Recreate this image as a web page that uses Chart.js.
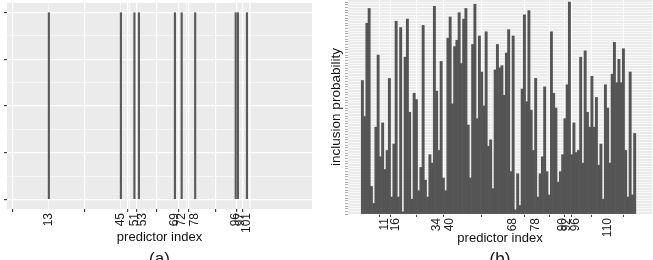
<!DOCTYPE html>
<html>
<head>
<meta charset="utf-8">
<script src="https://cdn.jsdelivr.net/npm/chart.js@4.4.0/dist/chart.umd.min.js"></script>
<style>
  html, body { margin: 0; padding: 0; width: 653px; height: 260px; overflow: hidden; background: #fff; }
  #chartA { position: absolute; left: 0; top: 0; }
  #chartB { position: absolute; left: 330px; top: 0; }
</style>
</head>
<body>
<canvas id="chartA" width="330" height="270"></canvas>
<canvas id="chartB" width="323" height="270"></canvas>
<script>
// panel (a): selected predictors
const selectedIdx = [13, 45, 51, 53, 69, 72, 78, 96, 97, 101];
const selectedVal = [1, 1, 1, 1, 1, 1, 1, 1, 1, 1];
// small shift of crowded tick labels, as in the original figure
const labelNudgeA = [0, 0, 0, 1.5, 0, 0, 0, 0, 1, 0];
const minorGridA = [-3, 29, 61, 87, 117];
const yGridA = [0, 0.125, 0.25, 0.375, 0.5, 0.625, 0.75, 0.875, 1];

// panel (b): inclusion probability of predictors 1..122
const tickLabelsB = [11, 16, 34, 40, 68, 78, 90, 92, 96, 110];
const inclusionProb = [
  0.63, 0.46, 0.90, 0.97, 0.13, 0.05, 0.41, 0.75, 0.27, 0.43,
  0.21, 0.30, 0.64, 0.08, 0.33, 0.91, 0.08, 0.88, 0.01, 0.74,
  0.92, 0.48, 0.07, 0.57, 0.54, 0.11, 0.22, 0.89, 0.16, 0.08,
  0.28, 0.24, 0.98, 0.58, 0.30, 0.72, 0.17, 0.11, 0.83, 0.93,
  0.52, 0.79, 0.82, 0.95, 0.71, 0.92, 0.97, 0.42, 0.17, 0.80,
  0.99, 0.45, 0.84, 0.67, 0.51, 0.86, 0.32, 0.35, 0.12, 0.68,
  0.80, 0.69, 0.70, 0.56, 0.76, 0.87, 0.20, 0.84, 0.02, 0.19,
  0.04, 0.59, 0.94, 0.53, 0.96, 0.49, 0.30, 0.64, 0.08, 0.19,
  0.27, 0.60, 0.20, 0.09, 0.86, 0.57, 0.50, 0.15, 0.20, 0.28,
  0.45, 0.61, 1.00, 0.28, 0.43, 0.29, 0.30, 0.74, 0.24, 0.77,
  0.48, 0.41, 0.65, 0.41, 0.55, 0.23, 0.33, 0.07, 0.61, 0.50,
  0.24, 0.66, 0.81, 0.62, 0.73, 0.62, 0.78, 0.30, 0.08, 0.67,
  0.09, 0.38
];

Chart.defaults.font.family = "'Liberation Sans', Arial, sans-serif";
Chart.defaults.animation = false;

const panelBg = {
  id: 'panelBg',
  beforeDraw(chart, args, opts) {
    const { ctx, chartArea: a } = chart;
    ctx.save();
    ctx.fillStyle = opts.color;
    ctx.fillRect(a.left, a.top, a.right - a.left, a.bottom - a.top);
    ctx.restore();
  }
};

const tickFont = { size: 12 };
const axisTitleFont = { size: 13 };
const panelTitle = text => ({
  display: true, text: text, position: 'bottom', fullSize: false, color: '#111',
  font: { size: 17, weight: 'normal' }, padding: 0
});

// ---- panel (a)
// tick list: real ticks (grid + tick mark, no text) and label ticks (text only)
const ticksA = selectedIdx.map(v => ({ value: v, kind: 'major' }))
  .concat(minorGridA.map(v => ({ value: v, kind: 'minor' })))
  .concat(selectedIdx.map((v, i) => ({ value: v + labelNudgeA[i], kind: 'label', text: String(v) })));

new Chart(document.getElementById('chartA'), {
  type: 'bar',
  data: {
    datasets: [{
      data: selectedIdx.map((x, i) => ({ x: x, y: selectedVal[i] })),
      backgroundColor: '#5a5a5a',
      borderWidth: 0,
      barPercentage: 0.95,
      categoryPercentage: 1
    }]
  },
  options: {
    responsive: false,
    layout: { padding: { top: 3, right: 18, left: 0, bottom: 0 } },
    plugins: {
      legend: { display: false },
      tooltip: { enabled: false },
      panelBg: { color: '#ebebeb' },
      title: panelTitle('(a)')
    },
    scales: {
      x: {
        type: 'linear', min: -5.6, max: 129.9, offset: false,
        afterBuildTicks: s => { s.ticks = ticksA.map(t => ({ value: t.value })); },
        afterFit: s => { s.height = 40.6; },
        ticks: {
          autoSkip: false, minRotation: 90, maxRotation: 90, padding: 1,
          color: '#222', font: tickFont,
          callback: (v, i) => ticksA[i].kind === 'label' ? ticksA[i].text : ''
        },
        grid: {
          color: c => ticksA[c.index] && ticksA[c.index].kind === 'label' ? 'rgba(0,0,0,0)' : '#ffffff',
          lineWidth: c => ticksA[c.index] && ticksA[c.index].kind === 'major' ? 1.2 : 0.6,
          tickLength: 3,
          tickColor: c => ticksA[c.index] && ticksA[c.index].kind === 'major' ? '#444' : 'rgba(0,0,0,0)'
        },
        border: { display: false },
        title: { display: true, text: 'predictor index', color: '#111', font: axisTitleFont,
                 padding: { top: 0, bottom: 4.8 } }
      },
      y: {
        min: -0.05, max: 1.05,
        afterBuildTicks: s => { s.ticks = yGridA.map(v => ({ value: v })); },
        afterFit: s => { s.width = 7; },
        ticks: { display: false },
        grid: {
          color: '#ffffff',
          lineWidth: c => (c.tick && c.tick.value * 4 % 1 === 0) ? 1.2 : 0.6,
          tickLength: 3,
          tickColor: c => (c.tick && c.tick.value * 4 % 1 === 0) ? '#444' : 'rgba(0,0,0,0)'
        },
        border: { display: false }
      }
    }
  },
  plugins: [panelBg]
});

// ---- panel (b)
const yGridB = [];
for (let k = 0; k <= 80; k++) yGridB.push(k / 80);

new Chart(document.getElementById('chartB'), {
  type: 'bar',
  data: {
    datasets: [{
      data: inclusionProb.map((v, i) => ({ x: i + 1, y: v })),
      backgroundColor: '#555555',
      borderWidth: 0,
      barPercentage: 1,
      categoryPercentage: 1,
      inflateAmount: 0.33
    }]
  },
  options: {
    responsive: false,
    layout: { padding: { top: 0, right: 1, left: 0, bottom: 0 } },
    plugins: {
      legend: { display: false },
      tooltip: { enabled: false },
      panelBg: { color: '#ebebeb' },
      title: panelTitle('(b)')
    },
    scales: {
      x: {
        type: 'linear', min: -5.4, max: 129.7, offset: false,
        afterBuildTicks: s => { s.ticks = tickLabelsB.map(v => ({ value: v })); },
        afterFit: s => { s.height = 35.6; },
        ticks: {
          autoSkip: false, minRotation: 90, maxRotation: 90, padding: 1,
          color: '#222', font: tickFont,
          callback: v => String(v)
        },
        grid: { color: '#ffffff', lineWidth: 1, tickLength: 3, tickColor: '#444' },
        border: { display: false },
        title: { display: true, text: 'predictor index', color: '#111', font: axisTitleFont,
                 padding: { top: 0, bottom: 3.3 } }
      },
      y: {
        min: 0, max: 1.01,
        afterBuildTicks: s => { s.ticks = yGridB.map(v => ({ value: v })); },
        afterFit: s => { s.width = 18; },
        ticks: { display: false },
        grid: { color: '#fbfbfb', lineWidth: 0.8, tickLength: 3, tickColor: '#777', tickWidth: 0.6 },
        border: { display: false },
        title: { display: true, text: 'inclusion probability', color: '#111',
                 font: { size: 13.5, lineHeight: 1 }, padding: 0 }
      }
    }
  },
  plugins: [panelBg]
});
</script>
</body>
</html>
